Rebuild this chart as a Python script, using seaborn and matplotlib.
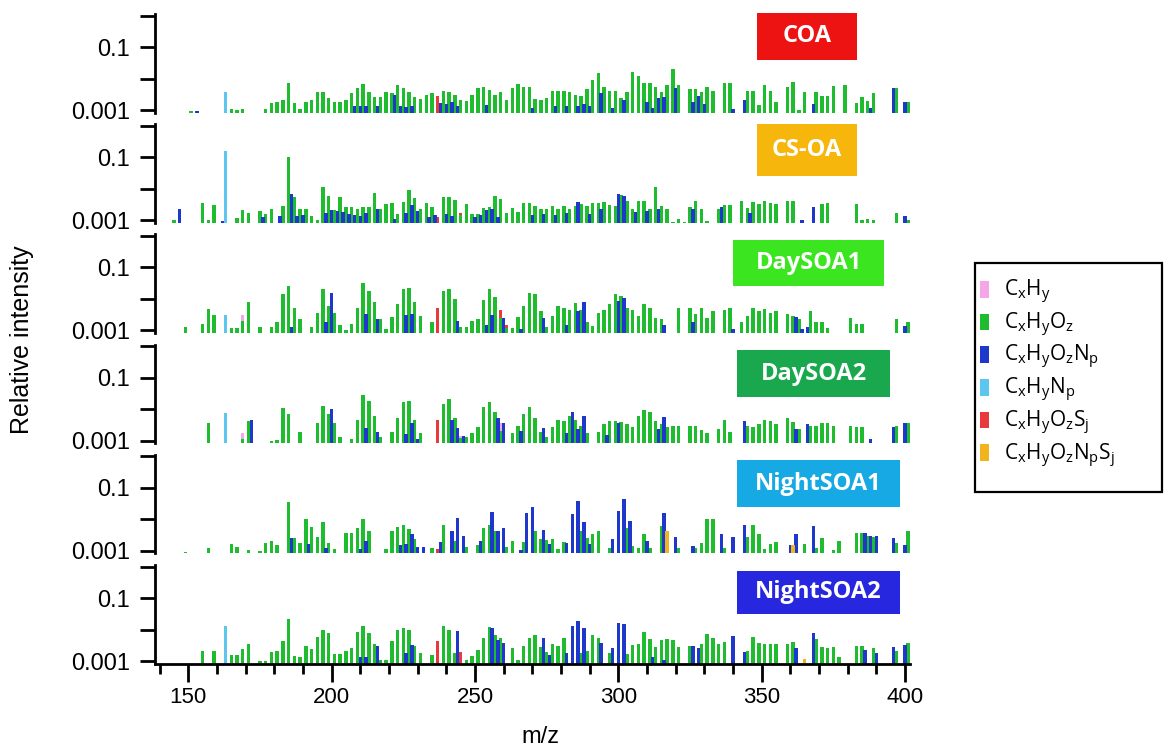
import numpy as np
import pandas as pd
import matplotlib
matplotlib.use("Agg")
import matplotlib.pyplot as plt
from matplotlib.patches import Patch, Rectangle
from matplotlib.ticker import NullLocator
import seaborn as sns

sns.set_style("ticks")
plt.rcParams["font.family"] = ["Liberation Sans", "DejaVu Sans"]
plt.rcParams["mathtext.default"] = "regular"
for key in ("axes.edgecolor", "xtick.color", "ytick.color", "text.color", "axes.labelcolor"):
    plt.rcParams[key] = "black"

W, H, DPI = 1164, 749, 100

# Intensities are given in units of 1e-3 (relative intensity).
SCALE = 1e-3

# Odd nominal masses, where the CxHyOz ions fall (145 ... 401).
MZ_ODD = np.arange(145, 402, 2)

COA_CHO = [
    0, 0, 0, 0.95, 0, 0, 0, 0, 0, 0,
    1.05, 1.0, 1.1, 0, 0, 0, 1.1, 1.7, 1.85, 2.1,
    7.0, 1.7, 1.05, 1.85, 2.1, 3.6, 3.8, 2.4, 1.85, 1.85,
    2.1, 3.4, 4.9, 6.7, 3.8, 2.5, 2.5, 3.6, 3.4, 6.2,
    4.9, 3.8, 2.6, 2.3, 2.9, 3.4, 0, 4.1, 3.8, 2.9,
    2.1, 1.9, 2.9, 4.9, 5.5, 4.3, 3.0, 3.8, 2.1, 4.9,
    6.7, 5.5, 5.5, 2.2, 2.1, 2.4, 4.1, 4.1, 4.1, 3.8,
    3.1, 2.85, 4.5, 9.0, 14.6, 5.5, 4.1, 4.1, 2.4, 3.8,
    16, 12, 7.4, 7.4, 5.5, 3.8, 6.2, 19.5, 6.2, 0,
    4.5, 4.5, 3.8, 5.5, 4.1, 0, 7.0, 7.4, 0, 0,
    4.1, 4.1, 1.4, 6.2, 4.1, 1.85, 0, 5.5, 7.9, 1.0,
    3.8, 0, 3.8, 2.8, 2.8, 5.9, 0, 6.2, 0, 1.7,
    2.5, 2.0, 3.5, 0, 0, 0, 4.9, 0, 1.85,
]
CSOA_CHO = [
    1.0, 0, 0, 0, 0, 3.6, 1.05, 3.0, 0, 0,
    0, 1.2, 2.1, 1.65, 0, 1.95, 1.6, 2.35, 0, 2.85,
    105, 5.6, 2.2, 2.35, 1.4, 1.05, 11, 5.9, 2.1, 5.3,
    2.65, 2.7, 2.35, 2.7, 2.7, 7.2, 2.2, 3.2, 3.6, 1.6,
    3.8, 9.0, 4.9, 2.35, 3.4, 2.7, 0, 5.6, 5.6, 4.4,
    1.5, 3.2, 1.6, 1.6, 2.5, 2.7, 5.9, 4.6, 1.75, 2.5,
    1.8, 3.6, 3.4, 2.9, 2.3, 2.3, 2.9, 2.3, 2.9, 2.3,
    2.9, 3.2, 2.9, 3.6, 3.6, 3.8, 3.0, 2.8, 6.2, 4.2,
    2.3, 4.0, 4.0, 2.3, 11, 2.9, 2.3, 0.9, 1.1, 0.9,
    2.7, 4.2, 2.3, 0.95, 0, 2.3, 3.0, 3.0, 0, 4.2,
    2.5, 3.9, 3.2, 4.2, 3.6, 3.2, 0, 4.2, 4.2, 0,
    0, 0, 0, 3.2, 3.6, 0, 0, 0, 0, 3.2,
    1.0, 1.1, 1.05, 0, 0, 0, 1.7, 0, 1.0,
]
DAY1_CHO = [
    0, 0, 1.3, 0, 0, 1.55, 4.9, 3.0, 0, 0,
    1.2, 1.2, 2.0, 7.9, 0, 1.3, 0, 1.3, 1.8, 14,
    25.5, 5.2, 2.25, 0, 1.3, 3.5, 20, 6.0, 3.5, 1.5,
    1.05, 1.65, 5.2, 31, 18, 8.1, 2.25, 1.1, 2.7, 6.7,
    21, 23, 7.9, 2.8, 0, 1.8, 0, 18, 20, 9.6,
    1.3, 1.3, 1.95, 2.25, 9.4, 21, 11.7, 2.5, 1.2, 1.2,
    2.7, 5.9, 15.7, 14, 4.1, 1.3, 2.9, 5.9, 5.2, 4.6,
    7.5, 4.6, 1.9, 1.35, 3.5, 4.4, 6.7, 14, 12.5, 5.2,
    4.6, 2.9, 6.7, 5.2, 2.5, 2.25, 0, 0, 5.2, 0,
    5.2, 3.3, 5.2, 2.5, 4.1, 0, 4.6, 5.2, 0, 1.9,
    2.9, 5.2, 4.1, 4.9, 3.5, 4.1, 0, 3.3, 2.9, 2.25,
    0, 4.1, 1.9, 1.8, 1.2, 0, 0, 0, 2.5, 1.55,
    1.55, 0, 0, 0, 0, 0, 2.25, 0, 1.8,
]
DAY2_CHO = [
    0, 0, 0, 0, 0, 0, 3.6, 0, 0, 0,
    0, 0, 1.1, 4.2, 0, 0, 0, 1.0, 1.05, 11,
    7.0, 0, 1.9, 0, 0, 3.6, 13, 7.0, 3.5, 1.3,
    0, 1.1, 4.6, 29, 18, 5.9, 1.3, 0, 1.9, 5.2,
    16.5, 18, 4.4, 1.7, 0, 0, 0, 14, 21, 5.2,
    1.2, 1.3, 1.7, 2.7, 11.7, 16.5, 7.9, 2.0, 0, 1.8,
    3.0, 7.0, 11.7, 5.2, 1.9, 1.3, 2.7, 4.6, 4.1, 6.2,
    4.6, 2.9, 1.8, 0, 1.9, 3.3, 4.1, 4.1, 3.8, 3.3,
    2.7, 5.9, 9.2, 8.0, 4.1, 3.3, 2.7, 2.9, 2.9, 0,
    3.0, 2.9, 2.1, 1.8, 0, 2.3, 4.6, 1.9, 0, 0,
    2.9, 2.7, 3.3, 4.6, 4.1, 3.3, 0, 5.2, 3.8, 2.3,
    0, 2.9, 3.0, 3.5, 3.5, 2.9, 0, 0, 3.0, 2.7,
    2.7, 0, 0, 0, 0, 0, 3.0, 0, 3.5,
]
NIGHT1_CHO = [
    0, 0, 0.95, 0, 0, 0, 1.2, 0, 0, 0,
    1.7, 1.35, 0, 1.05, 0, 1.0, 1.8, 2.1, 1.55, 0,
    35, 2.5, 1.8, 10, 5.9, 2.65, 8.0, 1.8, 1.1, 0,
    3.6, 3.8, 5.2, 10, 4.3, 0, 0, 1.1, 4.1, 5.6,
    6.7, 4.9, 2.3, 0, 0, 1.2, 0, 6.7, 0, 2.0,
    0, 1.3, 0, 1.5, 5.2, 6.7, 4.4, 0, 1.3, 2.1,
    0, 1.9, 0, 4.4, 2.3, 2.2, 2.3, 1.1, 1.9, 0,
    0, 4.1, 2.5, 3.3, 4.1, 0, 1.2, 0, 0, 5.2,
    1.4, 1.2, 3.5, 1.2, 0, 6.2, 0, 0, 1.2, 0,
    0, 1.2, 1.8, 10, 10, 0, 1.2, 0, 0, 0,
    2.7, 6.7, 3.3, 1.1, 1.7, 1.9, 0, 0, 0, 0,
    1.6, 0, 1.2, 2.5, 0, 1.05, 2.1, 0, 0, 3.8,
    3.8, 3.0, 2.8, 0, 0, 0, 1.8, 0, 4.1,
]
NIGHT2_CHO = [
    0, 0, 0, 0, 0, 2.05, 0, 2.05, 0, 0,
    1.55, 1.55, 2.35, 3.5, 0, 1.0, 1.0, 1.95, 2.1, 4.4,
    21, 1.45, 1.3, 3.0, 2.35, 5.9, 9.4, 7.6, 1.7, 1.7,
    2.1, 2.5, 8.5, 13, 7.9, 3.5, 1.1, 1.1, 4.4, 10,
    11, 9.4, 3.0, 1.8, 0, 1.55, 0, 12.5, 9.6, 1.75,
    0, 1.05, 1.45, 2.25, 5.2, 11.7, 6.7, 5.2, 0, 2.5,
    1.1, 3.0, 5.2, 6.7, 2.7, 1.9, 3.5, 3.0, 5.2, 0,
    0, 1.8, 2.1, 6.7, 5.2, 0, 1.8, 0, 0, 1.7,
    3.3, 3.5, 8.5, 4.9, 2.7, 4.6, 4.9, 4.6, 2.7, 0,
    3.0, 0, 3.5, 7.2, 5.2, 3.5, 4.1, 0, 0, 0,
    2.1, 5.6, 3.6, 3.5, 3.5, 3.5, 0, 3.5, 4.1, 0,
    0, 0, 4.9, 2.7, 2.5, 2.7, 1.3, 0, 0, 3.0,
    3.0, 0, 2.5, 0, 0, 0, 2.1, 0, 3.6,
]

# CxHyOzNp peaks as (m/z, intensity) pairs.
COA_CHON = [(153, 0.9), (208, 1.35), (210, 1.35), (212, 1.3), (216, 1.3), (222, 3.0),
            (224, 1.3), (226, 1.25), (228, 1.3), (238, 1.7), (240, 1.5), (242, 1.8),
            (244, 1.3), (254, 1.4), (270, 1.2), (278, 1.3), (282, 1.3), (286, 1.3),
            (288, 1.6), (290, 1.3), (294, 3.4), (298, 1.2), (302, 2.1), (310, 1.85),
            (312, 1.2), (314, 2.4), (316, 2.5), (320, 4.9), (326, 1.8), (328, 2.7),
            (330, 1.6), (340, 1.1), (344, 2.1), (368, 1.6), (388, 1.2), (396, 4.9),
            (400, 1.85)]
CSOA_CHON = [(147, 2.35), (162, 0.95), (176, 1.3), (182, 1.35), (186, 6.7), (188, 1.4),
             (190, 1.5), (198, 1.75), (200, 2.1), (202, 2.0), (204, 1.8), (206, 1.6),
             (208, 1.5), (210, 1.4), (212, 1.7), (216, 2.25), (222, 1.1), (226, 1.7),
             (228, 3.0), (230, 2.0), (234, 1.3), (236, 1.5), (240, 1.6), (242, 1.4),
             (250, 1.3), (252, 1.5), (254, 2.1), (256, 2.3), (258, 1.3), (270, 1.5),
             (274, 1.6), (278, 1.5), (282, 1.7), (286, 3.8), (290, 1.6), (294, 2.3),
             (300, 6.7), (302, 5.9), (306, 1.8), (310, 2.0), (314, 2.2), (326, 2.2),
             (336, 2.7), (346, 1.75), (364, 1.0), (368, 2.7), (400, 1.4)]
DAY1_CHON = [(186, 1.3), (198, 1.8), (200, 15), (212, 3.3), (216, 2.35), (226, 3.0),
             (228, 3.3), (244, 1.95), (254, 1.5), (256, 3.0), (260, 2.5), (266, 1.1),
             (274, 2.5), (282, 1.5), (286, 4.1), (288, 8.1), (300, 8.5), (302, 11),
             (316, 1.5), (326, 1.9), (340, 1.1), (362, 2.7), (364, 1.1), (366, 1.3),
             (400, 1.4)]
DAY2_CHON = [(172, 4.4), (200, 10), (212, 2.5), (216, 1.9), (226, 1.6), (228, 3.6),
             (230, 1.1), (242, 4.4), (244, 2.5), (246, 1.45), (258, 5.2), (260, 3.5),
             (266, 2.0), (274, 2.5), (282, 1.7), (284, 7.9), (286, 2.4), (288, 5.9),
             (296, 1.5), (300, 3.5), (314, 2.3), (316, 5.5), (344, 4.1), (362, 2.3),
             (366, 3.3), (388, 1.1), (396, 2.7), (400, 3.5)]
NIGHT1_CHON = [(186, 2.5), (192, 1.7), (198, 1.2), (210, 1.1), (212, 2.0), (224, 1.5),
               (226, 1.7), (228, 3.3), (230, 1.3), (232, 1.3), (238, 1.9), (242, 4.4),
               (244, 11), (246, 3.0), (252, 2.1), (256, 17), (258, 4.1), (260, 5.2),
               (266, 1.05), (268, 16), (270, 24.5), (274, 4.6), (276, 1.7), (282, 1.8),
               (284, 15), (286, 37), (288, 8.5), (290, 1.7), (298, 2.3), (300, 17.7),
               (302, 44), (304, 9.0), (310, 2.1), (316, 15.7), (320, 2.8), (326, 1.4),
               (336, 3.5), (340, 2.8), (344, 6.7), (360, 1.5), (362, 3.5), (368, 6.2),
               (386, 3.6), (388, 2.9), (390, 2.9), (396, 2.5), (400, 1.5)]
NIGHT2_CHON = [(210, 1.3), (212, 1.3), (216, 3.0), (226, 1.8), (228, 3.3), (244, 8.9),
               (256, 11), (258, 4.6), (260, 3.6), (274, 5.2), (276, 1.5), (282, 1.8),
               (284, 13), (286, 19), (288, 11), (294, 3.8), (298, 2.5), (300, 16.5),
               (302, 15), (312, 1.3), (316, 1.05), (326, 3.0), (328, 2.5), (340, 6.2),
               (344, 1.9), (362, 2.5), (368, 7.6), (386, 2.3), (390, 1.8), (396, 2.7),
               (400, 3.3)]

# Minor classes: (factor, m/z, intensity)
CH_PEAKS = [("DaySOA1", 169, 3.0), ("DaySOA2", 169, 1.7), ("DaySOA2", 245, 1.45),
            ("DaySOA2", 259, 3.5)]
CHN_PEAKS = [("COA", 163, 3.6), ("CS-OA", 163, 156), ("DaySOA1", 163, 3.0),
             ("DaySOA2", 163, 7.6), ("NightSOA2", 163, 13)]
CHOS_PEAKS = [("COA", 237, 2.85), ("CS-OA", 237, 1.3), ("CS-OA", 245, 1.75),
              ("DaySOA1", 237, 5.2), ("DaySOA1", 259, 4.4), ("DaySOA1", 261, 1.45),
              ("DaySOA2", 237, 4.6), ("NightSOA1", 237, 1.1), ("NightSOA2", 237, 4.4),
              ("NightSOA2", 245, 2.0)]
CHONS_PEAKS = [("NightSOA1", 317, 4.1), ("NightSOA1", 361, 1.55), ("NightSOA2", 365, 1.2)]

FACTORS = ["COA", "CS-OA", "DaySOA1", "DaySOA2", "NightSOA1", "NightSOA2"]
FACTOR_COLORS = ["#EE1313", "#F6B60C", "#3BE51F", "#1AA84F", "#17A9E3", "#2727DF"]
CHO_BY_FACTOR = [COA_CHO, CSOA_CHO, DAY1_CHO, DAY2_CHO, NIGHT1_CHO, NIGHT2_CHO]
CHON_BY_FACTOR = [COA_CHON, CSOA_CHON, DAY1_CHON, DAY2_CHON, NIGHT1_CHON, NIGHT2_CHON]

# Drawing order: later classes are painted on top.
CLASSES = ["CH", "CHOS", "CHO", "CHN", "CHON", "CHONS"]
CLASS_COLORS = {"CH": "#F4A6E6", "CHO": "#20BC30", "CHON": "#1E38CC",
                "CHN": "#5CC6EF", "CHOS": "#E8393B", "CHONS": "#F2B41C"}
LEGEND_ORDER = ["CH", "CHO", "CHON", "CHN", "CHOS", "CHONS"]
LEGEND_LABELS = {"CH": "C$_x$H$_y$", "CHO": "C$_x$H$_y$O$_z$",
                 "CHON": "C$_x$H$_y$O$_z$N$_p$", "CHN": "C$_x$H$_y$N$_p$",
                 "CHOS": "C$_x$H$_y$O$_z$S$_j$", "CHONS": "C$_x$H$_y$O$_z$N$_p$S$_j$"}

YMIN, YMAX = 8.3e-4, 1.116
XMIN, XMAX = 138.4, 401.7


def px_rect(x0, y0, x1, y1):
    """Pixel box (top-left origin) -> figure fraction [left, bottom, width, height]."""
    return [x0 / W, 1 - y1 / H, (x1 - x0) / W, (y1 - y0) / H]


def factor_frame(i, name):
    rows = [(mz, v * SCALE, "CHO") for mz, v in zip(MZ_ODD, CHO_BY_FACTOR[i]) if v > 0]
    rows += [(mz, v * SCALE, "CHON") for mz, v in CHON_BY_FACTOR[i]]
    for cls, peaks in (("CH", CH_PEAKS), ("CHN", CHN_PEAKS),
                       ("CHOS", CHOS_PEAKS), ("CHONS", CHONS_PEAKS)):
        rows += [(mz, v * SCALE, cls) for f, mz, v in peaks if f == name]
    return pd.DataFrame(rows, columns=["mz", "rel", "cls"])


for cho in CHO_BY_FACTOR:
    assert len(cho) == len(MZ_ODD)

fig = plt.figure(figsize=(W / DPI, H / DPI), dpi=DPI)

for i, name in enumerate(FACTORS):
    y_base = 110 + 110.2 * i          # pixel row of the 0.001 gridline
    ax = fig.add_axes(px_rect(155, y_base - 96.0, 909.9, y_base + 2.55))
    df = factor_frame(i, name)
    present = [c for c in CLASSES if c in set(df["cls"])]
    sns.barplot(data=df, x="mz", y="rel", hue="cls", hue_order=present,
                palette=CLASS_COLORS, native_scale=True, dodge=False,
                errorbar=None, width=1.2, saturation=1, linewidth=0,
                legend=False, ax=ax)
    ax.set_yscale("log")
    ax.set_ylim(YMIN, YMAX)
    ax.set_xlim(XMIN, XMAX)
    ax.set_xlabel("")
    ax.set_ylabel("")
    ax.set_facecolor("none")
    for side in ("top", "right"):
        ax.spines[side].set_visible(False)
    ax.spines["left"].set_linewidth(2.0)
    ax.spines["bottom"].set_linewidth(2.0)
    ax.set_yticks([1e-3, 1e-2, 1e-1, 1])
    ax.set_yticklabels(["0.001", "", "0.1", ""])
    ax.yaxis.set_minor_locator(NullLocator())
    ax.tick_params(axis="y", length=11, width=2.0, labelsize=17, pad=7)
    if i < len(FACTORS) - 1:
        ax.spines["bottom"].set_visible(False)
        ax.set_xticks([])
    else:
        ax.set_xticks(range(150, 401, 50))
        ax.set_xticks(range(140, 401, 10), minor=True)
        ax.tick_params(axis="x", which="major", length=13, width=2.0,
                       labelsize=16, pad=4)
        ax.tick_params(axis="x", which="minor", length=7, width=2.0)

# factor name tags
TAG_BOXES = [(757, 13, 857, 60), (757, 124, 857, 176), (733, 240, 884, 286),
             (737, 350, 890, 397), (737, 460, 900, 507), (737, 571, 900, 614)]
for name, color, (x0, y0, x1, y1) in zip(FACTORS, FACTOR_COLORS, TAG_BOXES):
    l, b, w, h = px_rect(x0, y0, x1, y1)
    fig.add_artist(Rectangle((l, b), w, h, transform=fig.transFigure,
                             facecolor=color, edgecolor="none"))
    fig.text(l + w / 2, b + h / 2, name, ha="center", va="center", color="white",
             fontsize=17, fontweight="bold", family=["Open Sans", "DejaVu Sans"])

fig.text(22 / W, 1 - 340 / H, "Relative intensity", rotation=90,
         ha="center", va="center", fontsize=18)
fig.text(540 / W, 1 - 737 / H, "m/z", ha="center", va="center", fontsize=17)

# legend: fixed frame with the class entries inside
l, b, w, h = px_rect(975, 263, 1162, 492)
fig.add_artist(Rectangle((l, b), w, h, transform=fig.transFigure,
                         facecolor="white", edgecolor="black", linewidth=1.6))
handles = [Patch(facecolor=CLASS_COLORS[c], edgecolor="none") for c in LEGEND_ORDER]
leg = fig.legend(handles, [LEGEND_LABELS[c] for c in LEGEND_ORDER],
                 loc="upper left", bbox_to_anchor=(980 / W, 1 - 278 / H),
                 frameon=False, handlelength=0.45, handleheight=0.85,
                 labelspacing=0.22, borderpad=0.0, handletextpad=0.7,
                 borderaxespad=0, prop={"family": ["Open Sans", "DejaVu Sans"], "size": 15})

fig.savefig("out.png", dpi=DPI)
